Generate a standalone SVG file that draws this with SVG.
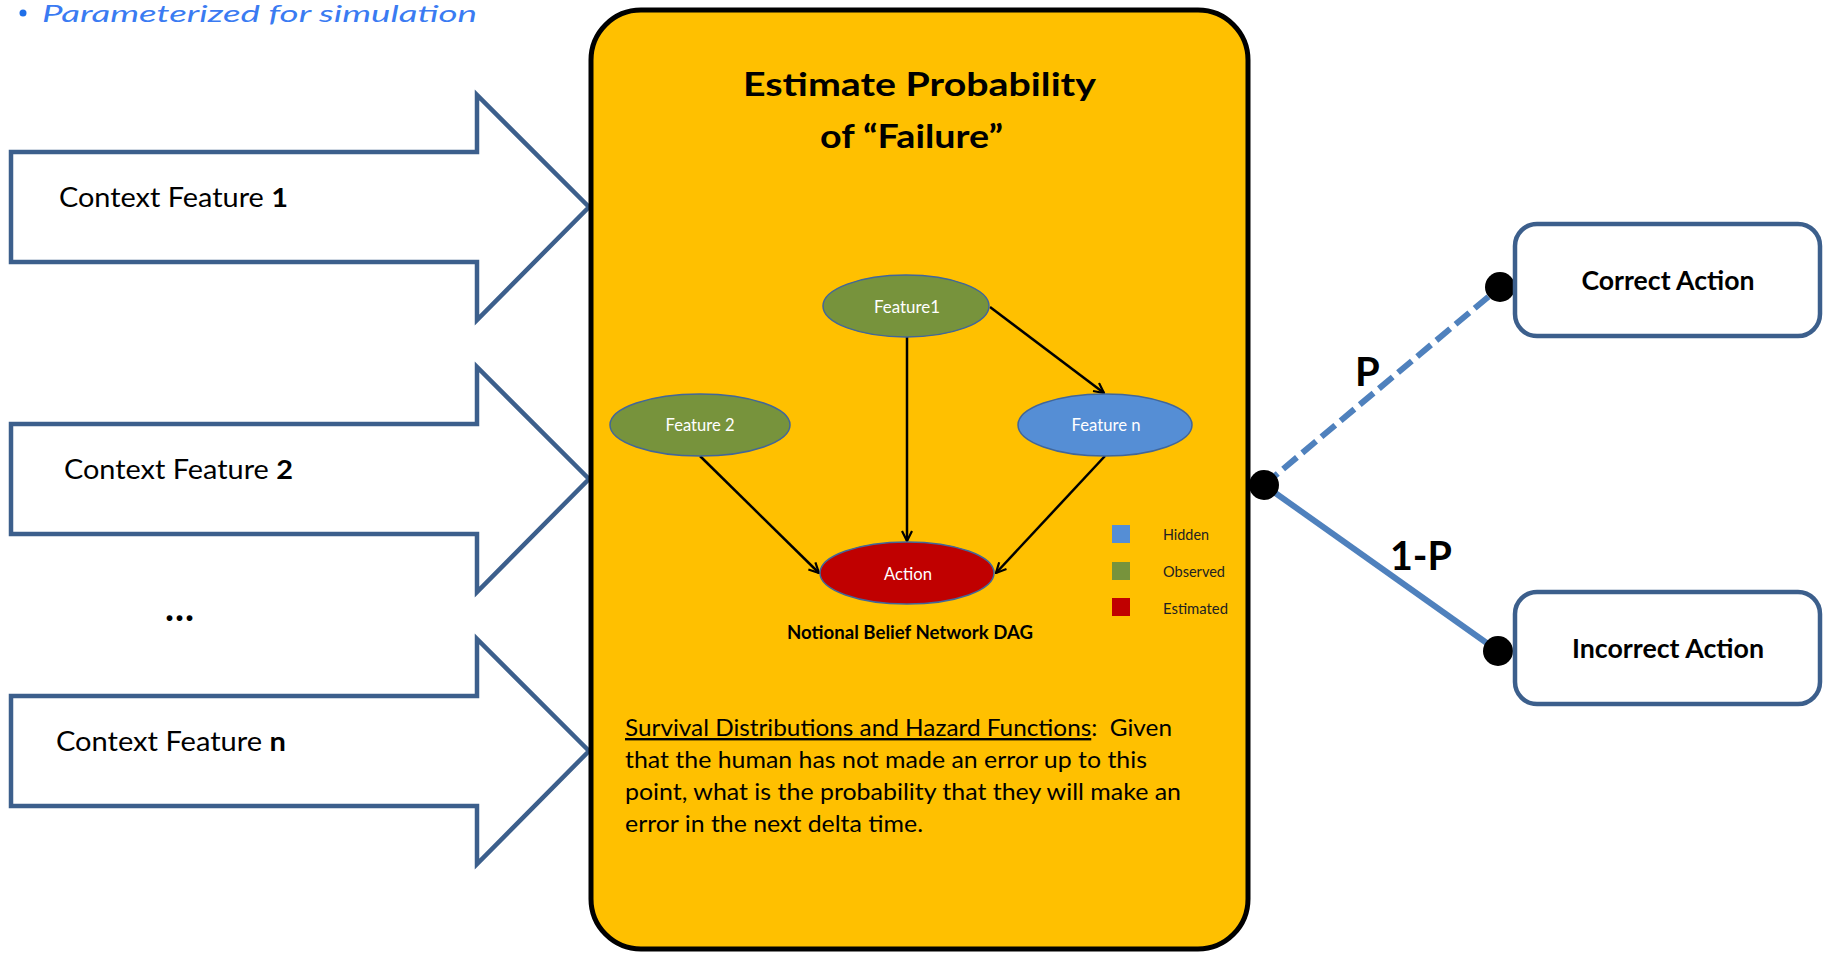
<svg xmlns="http://www.w3.org/2000/svg" width="1823" height="953" viewBox="0 0 1823 953">
<defs>
<style>
.arrow{fill:#fff;stroke:#3C5F8C;stroke-width:4.5;stroke-linejoin:miter}
.ctx{font-family:Lato,"Liberation Sans",sans-serif;font-size:26px;fill:#000}
.b{font-weight:bold}
.ell{stroke:#41669A;stroke-width:1.5}
.elabel{font-family:Lato,"Liberation Sans",sans-serif;font-size:18px;fill:#fff;text-anchor:middle}
.edge{stroke:#000;stroke-width:2.5;fill:none;marker-end:url(#vhead)}
.leg{font-family:Lato,"Liberation Sans",sans-serif;font-size:16px;fill:#222}
.para{font-family:Lato,"Liberation Sans",sans-serif;font-size:24px;fill:#000}
.outbox{fill:#fff;stroke:#3C5F8C;stroke-width:4.5}
.outtext{font-family:Lato,"Liberation Sans",sans-serif;font-size:26px;font-weight:bold;fill:#000;text-anchor:middle}
.branch{stroke:#4F81BD;stroke-width:6;fill:none}
.dot{fill:#000}
.plabel{font-family:Lato,"Liberation Sans",sans-serif;font-size:40px;font-weight:bold;fill:#000}
</style>
<marker id="vhead" viewBox="0 0 12 12" refX="11" refY="6" markerWidth="12" markerHeight="12" markerUnits="userSpaceOnUse" orient="auto">
<path d="M1,1 L11,6 L1,11" fill="none" stroke="#000" stroke-width="2.2"/>
</marker>
</defs>
<rect width="1823" height="953" fill="#fff"/>

<g id="subtitle">
<circle cx="23" cy="13" r="3.5" fill="#1F6FE8"/>
<text x="42" y="22" font-family="Lato,'Liberation Sans',sans-serif" font-style="italic" font-size="23" fill="#3A7BF2" textLength="435" lengthAdjust="spacingAndGlyphs">Parameterized for simulation</text>
</g>

<g id="context-feature-1">
<path class="arrow" d="M11,152 L477,152 L477,95 L589,207 L477,320 L477,262 L11,262 Z"/>
<text class="ctx" x="59" y="207" textLength="229" lengthAdjust="spacingAndGlyphs">Context Feature <tspan class="b">1</tspan></text>
</g>
<g id="context-feature-2">
<path class="arrow" d="M11,424 L477,424 L477,367 L589,479 L477,592 L477,534 L11,534 Z"/>
<text class="ctx" x="64" y="479" textLength="229" lengthAdjust="spacingAndGlyphs">Context Feature <tspan class="b">2</tspan></text>
</g>
<g id="ellipsis">
<text x="165" y="621" font-family="Lato,'Liberation Sans',sans-serif" font-size="38" font-weight="bold" textLength="29" lengthAdjust="spacing">...</text>
</g>
<g id="context-feature-n">
<path class="arrow" d="M11,696 L477,696 L477,639 L589,751 L477,864 L477,806 L11,806 Z"/>
<text class="ctx" x="56" y="751" textLength="230" lengthAdjust="spacingAndGlyphs">Context Feature <tspan class="b">n</tspan></text>
</g>

<g id="estimate-box">
<rect x="591" y="10" width="657" height="939" rx="50" ry="50" fill="#FFC000" stroke="#000" stroke-width="5"/>
<text x="743" y="96" font-family="Lato,'Liberation Sans',sans-serif" font-size="33" font-weight="bold" textLength="353" lengthAdjust="spacingAndGlyphs">Estimate Probability</text>
<text x="820" y="148" font-family="Lato,'Liberation Sans',sans-serif" font-size="33" font-weight="bold" textLength="183" lengthAdjust="spacingAndGlyphs">of “Failure”</text>
<text x="910" y="639" font-family="Lato,'Liberation Sans',sans-serif" font-size="18" font-weight="bold" text-anchor="middle" textLength="246" lengthAdjust="spacingAndGlyphs">Notional Belief Network DAG</text>
<text class="para" x="625" y="736" textLength="547" lengthAdjust="spacingAndGlyphs"><tspan text-decoration="underline">Survival Distributions and Hazard Functions</tspan>:&#160; Given</text>
<text class="para" x="625" y="768" textLength="522" lengthAdjust="spacingAndGlyphs">that the human has not made an error up to this</text>
<text class="para" x="625" y="800" textLength="556" lengthAdjust="spacingAndGlyphs">point, what is the probability that they will make an</text>
<text class="para" x="625" y="832" textLength="298" lengthAdjust="spacingAndGlyphs">error in the next delta time.</text>
</g>

<g id="dag-edges">
<line class="edge" x1="990" y1="307" x2="1104" y2="393"/>
<line class="edge" x1="907" y1="337" x2="907" y2="541"/>
<line class="edge" x1="700" y1="456" x2="819" y2="573"/>
<line class="edge" x1="1105" y1="456" x2="996" y2="573"/>
</g>

<g id="feature1">
<ellipse class="ell" cx="906" cy="306" rx="83" ry="31" fill="#77933C"/>
<text class="elabel" x="907" y="313" textLength="66" lengthAdjust="spacingAndGlyphs">Feature1</text>
</g>
<g id="feature2">
<ellipse class="ell" cx="700" cy="425" rx="90" ry="31" fill="#77933C"/>
<text class="elabel" x="700" y="431" textLength="69" lengthAdjust="spacingAndGlyphs">Feature 2</text>
</g>
<g id="featuren">
<ellipse class="ell" cx="1105" cy="425" rx="87" ry="31" fill="#558ED5"/>
<text class="elabel" x="1106" y="431" textLength="69" lengthAdjust="spacingAndGlyphs">Feature n</text>
</g>
<g id="action">
<ellipse class="ell" cx="907" cy="573" rx="87" ry="31" fill="#C00000"/>
<text class="elabel" x="908" y="580" textLength="48" lengthAdjust="spacingAndGlyphs">Action</text>
</g>

<g id="legend">
<rect x="1112" y="525" width="18" height="18" fill="#558ED5"/>
<text class="leg" x="1163" y="540" textLength="46" lengthAdjust="spacingAndGlyphs">Hidden</text>
<rect x="1112" y="562" width="18" height="18" fill="#77933C"/>
<text class="leg" x="1163" y="577" textLength="62" lengthAdjust="spacingAndGlyphs">Observed</text>
<rect x="1112" y="598" width="18" height="18" fill="#C00000"/>
<text class="leg" x="1163" y="614" textLength="65" lengthAdjust="spacingAndGlyphs">Estimated</text>
</g>

<g id="connectors">
<line class="branch" x1="1264" y1="485" x2="1500" y2="287" stroke-dasharray="18 7"/>
<line class="branch" x1="1264" y1="485" x2="1498" y2="651"/>
<circle class="dot" cx="1264" cy="485" r="15"/>
<circle class="dot" cx="1500" cy="287" r="15"/>
<circle class="dot" cx="1498" cy="651" r="15"/>
<text class="plabel" x="1355" y="386">P</text>
<text class="plabel" x="1390" y="570" textLength="62" lengthAdjust="spacingAndGlyphs">1-P</text>
</g>

<g id="correct-action">
<rect class="outbox" x="1515" y="224" width="305" height="112" rx="22" ry="22"/>
<text class="outtext" x="1668" y="290" textLength="173" lengthAdjust="spacingAndGlyphs">Correct Action</text>
</g>
<g id="incorrect-action">
<rect class="outbox" x="1515" y="592" width="305" height="112" rx="22" ry="22"/>
<text class="outtext" x="1668" y="658" textLength="192" lengthAdjust="spacingAndGlyphs">Incorrect Action</text>
</g>
</svg>
